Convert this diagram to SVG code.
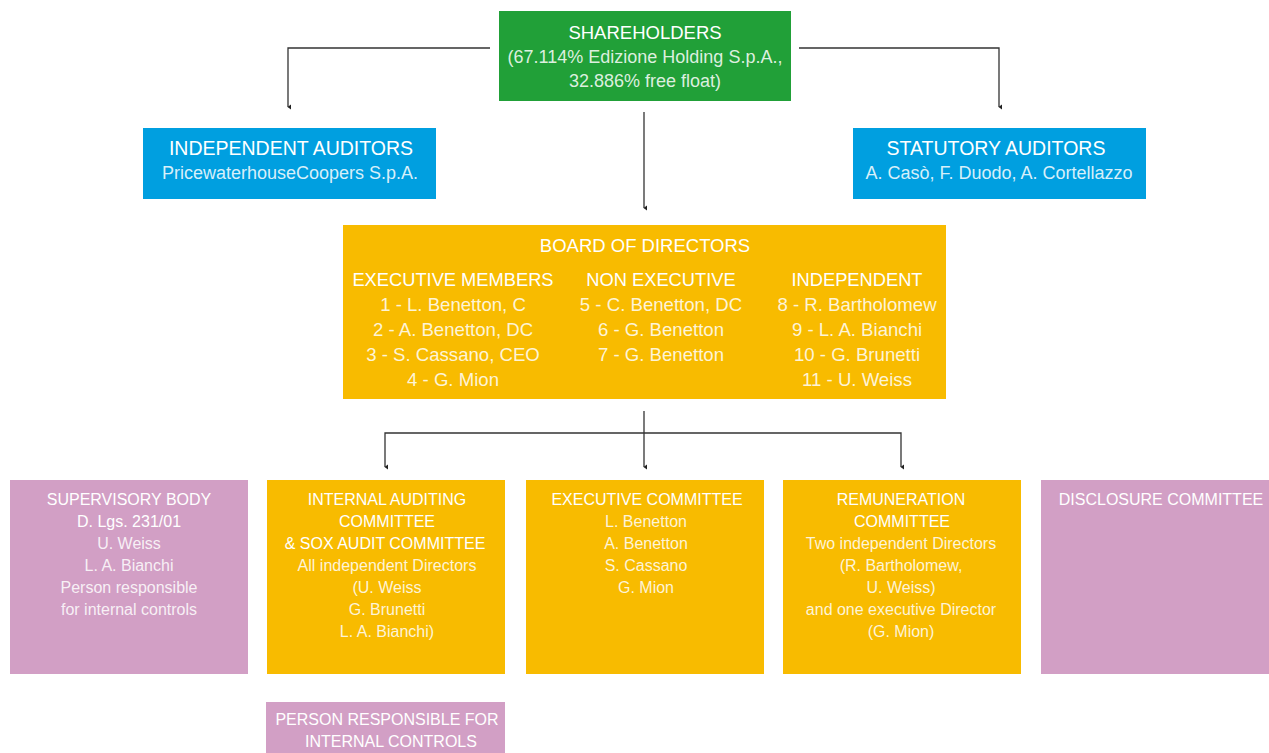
<svg xmlns="http://www.w3.org/2000/svg" width="1269" height="753" viewBox="0 0 1269 753">
<defs>
<marker id="arr" markerWidth="6" markerHeight="6" refX="3" refY="5" orient="auto-start-reverse" markerUnits="userSpaceOnUse" viewBox="0 0 6 6">
<path d="M0.5,2 L3,5.5 L5.5,2 Z" fill="#222"/>
</marker>
<style>
text{font-family:"Liberation Sans","Open Sans",sans-serif;text-anchor:middle;fill:#fff}
.h{font-size:18.5px}
.h2{font-size:19.5px}
.b{font-size:18px;fill-opacity:0.85}
.bh{font-size:18.3px}
.bb{font-size:18.6px;fill-opacity:0.85}
.sh{font-size:16px}
.sb{font-size:16px;fill-opacity:0.85}
.green{fill:#21a038}
.blue{fill:#009fe0}
.yellow{fill:#f8bb00}
.pink{fill:#d29fc5}
.conn{fill:none;stroke:#333;stroke-width:1.3}
</style>
</defs>
<rect width="1269" height="753" fill="#fff"/>
<g id="connectors">
<path class="conn" d="M490,48 H288 V107" marker-end="url(#arr)"/>
<path class="conn" d="M799,48 H999 V107" marker-end="url(#arr)"/>
<path class="conn" d="M644,112 V208" marker-end="url(#arr)"/>
<path class="conn" d="M644,411 V467" marker-end="url(#arr)"/>
<path class="conn" d="M385,467 V433 H901 V467" marker-end="url(#arr)" marker-start="url(#arr)"/>
</g>
<g id="shareholders">
<rect class="green" x="499" y="11" width="292" height="90"/>
<text class="h" x="645" y="39">SHAREHOLDERS</text>
<text class="b" x="645" y="63">(67.114% Edizione Holding S.p.A.,</text>
<text class="b" x="645" y="87">32.886% free float)</text>
</g>
<g id="independent-auditors">
<rect class="blue" x="143" y="128" width="293" height="71"/>
<text class="h2" x="291" y="155">INDEPENDENT AUDITORS</text>
<text class="b" x="290" y="179">PricewaterhouseCoopers S.p.A.</text>
</g>
<g id="statutory-auditors">
<rect class="blue" x="853" y="128" width="293" height="71"/>
<text class="h2" x="996" y="155">STATUTORY AUDITORS</text>
<text class="b" x="999" y="179">A. Casò, F. Duodo, A. Cortellazzo</text>
</g>
<g id="board">
<rect class="yellow" x="343" y="225" width="603" height="174"/>
<text class="h" x="645" y="252">BOARD OF DIRECTORS</text>
<text class="bh" x="453" y="286">EXECUTIVE MEMBERS</text>
<text class="bb" x="453" y="311">1 - L. Benetton, C</text>
<text class="bb" x="453" y="336">2 - A. Benetton, DC</text>
<text class="bb" x="453" y="361">3 - S. Cassano, CEO</text>
<text class="bb" x="453" y="386">4 - G. Mion</text>
<text class="bh" x="661" y="286">NON EXECUTIVE</text>
<text class="bb" x="661" y="311">5 - C. Benetton, DC</text>
<text class="bb" x="661" y="336">6 - G. Benetton</text>
<text class="bb" x="661" y="361">7 - G. Benetton</text>
<text class="bh" x="857" y="286">INDEPENDENT</text>
<text class="bb" x="857" y="311">8 - R. Bartholomew</text>
<text class="bb" x="857" y="336">9 - L. A. Bianchi</text>
<text class="bb" x="857" y="361">10 - G. Brunetti</text>
<text class="bb" x="857" y="386">11 - U. Weiss</text>
</g>
<g id="supervisory-body">
<rect class="pink" x="10" y="480" width="238" height="194"/>
<text class="sh" x="129" y="505">SUPERVISORY BODY</text>
<text class="sh" x="129" y="527">D. Lgs. 231/01</text>
<text class="sb" x="129" y="549">U. Weiss</text>
<text class="sb" x="129" y="571">L. A. Bianchi</text>
<text class="sb" x="129" y="593">Person responsible</text>
<text class="sb" x="129" y="615">for internal controls</text>
</g>
<g id="internal-auditing">
<rect class="yellow" x="267" y="480" width="238" height="194"/>
<text class="sh" x="387" y="505">INTERNAL AUDITING</text>
<text class="sh" x="387" y="527">COMMITTEE</text>
<text class="sh" x="385" y="549">&amp; SOX AUDIT COMMITTEE</text>
<text class="sb" x="387" y="571">All independent Directors</text>
<text class="sb" x="387" y="593">(U. Weiss</text>
<text class="sb" x="387" y="615">G. Brunetti</text>
<text class="sb" x="387" y="637">L. A. Bianchi)</text>
</g>
<g id="executive-committee">
<rect class="yellow" x="526" y="480" width="238" height="194"/>
<text class="sh" x="647" y="505">EXECUTIVE COMMITTEE</text>
<text class="sb" x="646" y="527">L. Benetton</text>
<text class="sb" x="646" y="549">A. Benetton</text>
<text class="sb" x="646" y="571">S. Cassano</text>
<text class="sb" x="646" y="593">G. Mion</text>
</g>
<g id="remuneration-committee">
<rect class="yellow" x="783" y="480" width="238" height="194"/>
<text class="sh" x="901" y="505">REMUNERATION</text>
<text class="sh" x="902" y="527">COMMITTEE</text>
<text class="sb" x="901" y="549">Two independent Directors</text>
<text class="sb" x="901" y="571">(R. Bartholomew,</text>
<text class="sb" x="901" y="593">U. Weiss)</text>
<text class="sb" x="901" y="615">and one executive Director</text>
<text class="sb" x="901" y="637">(G. Mion)</text>
</g>
<g id="disclosure-committee">
<rect class="pink" x="1041" y="480" width="240" height="194"/>
<text class="sh" x="1161" y="505">DISCLOSURE COMMITTEE</text>
</g>
<g id="person-responsible">
<rect class="pink" x="266" y="702" width="239" height="51"/>
<text class="sh" x="387" y="725">PERSON RESPONSIBLE FOR</text>
<text class="sh" x="391" y="747">INTERNAL CONTROLS</text>
</g>
</svg>
